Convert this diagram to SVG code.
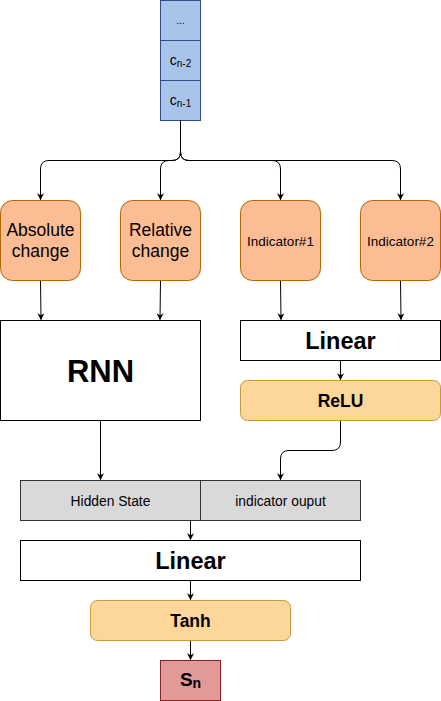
<svg xmlns="http://www.w3.org/2000/svg" width="441" height="701" viewBox="0 0 441 701">
<style>
text{font-family:"Liberation Sans",Arial,sans-serif;fill:#000;text-anchor:middle;dominant-baseline:central}
.b{font-weight:bold}
.stack{fill:#a9c4eb;stroke:#2f4f85;stroke-width:1}
.ind{fill:#fdbd94;stroke:#b46504;stroke-width:1}
.white{fill:#fff;stroke:#000;stroke-width:1}
.act{fill:#fdd699;stroke:#c49a3a;stroke-width:1}
.grey{fill:#d9d9d9;stroke:#333;stroke-width:1}
.out{fill:#e29997;stroke:#8a2222;stroke-width:1}
.edge{fill:none;stroke:#000;stroke-width:1;marker-end:url(#arr)}
</style>
<defs>
<marker id="arr" viewBox="0 0 10 10" refX="9" refY="5" markerWidth="7" markerHeight="7" markerUnits="userSpaceOnUse" orient="auto">
<path d="M0,0 L10,5 L0,10 L3,5 Z" fill="#000"/>
</marker>
</defs>
<g id="stack">
<rect class="stack" x="160.5" y="0.5" width="40" height="40"/>
<rect class="stack" x="160.5" y="40.5" width="40" height="40"/>
<rect class="stack" x="160.5" y="80.5" width="40" height="40"/>
<text x="180.5" y="20" font-size="10">...</text>
<text x="180.5" y="60" font-size="14">c<tspan font-size="10" dy="3">n-2</tspan></text>
<text x="180.5" y="100" font-size="14">c<tspan font-size="10" dy="3">n-1</tspan></text>
</g>
<g id="connectors">
<path class="edge" d="M180.5 120.5 L180.5 152 Q180.5 160.5 172 160.5 L49 160.5 Q40.5 160.5 40.5 169 L40.5 199.5"/>
<path class="edge" d="M180.5 120.5 L180.5 152 Q180.5 160.5 172 160.5 L169 160.5 Q160.5 160.5 160.5 169 L160.5 199.5"/>
<path class="edge" d="M180.5 120.5 L180.5 152 Q180.5 160.5 189 160.5 L272 160.5 Q280.5 160.5 280.5 169 L280.5 199.5"/>
<path class="edge" d="M180.5 120.5 L180.5 152 Q180.5 160.5 189 160.5 L392 160.5 Q400.5 160.5 400.5 169 L400.5 199.5"/>
<path class="edge" d="M40.5 280.5 L41 319.5"/>
<path class="edge" d="M160.5 280.5 L160 319.5"/>
<path class="edge" d="M280.5 280.5 L281 319.5"/>
<path class="edge" d="M400.5 280.5 L401 319.5"/>
<path class="edge" d="M340.5 360.5 L340.5 379.5"/>
<path class="edge" d="M340.5 420.5 L340.5 442 Q340.5 450.5 332 450.5 L289 450.5 Q280.5 450.5 280.5 459 L280.5 479.5"/>
<path class="edge" d="M100.5 420.5 L100.5 479.5"/>
<path class="edge" d="M190.5 520.5 L190.5 539.5"/>
<path class="edge" d="M190.5 580.5 L190.5 599.5"/>
<path class="edge" d="M190.5 640.5 L190.5 659.5"/>
</g>
<g id="absolute">
<rect class="ind" x="0.5" y="200.5" width="80" height="80" rx="12"/>
<text x="40.5" y="230" font-size="17.5">Absolute</text>
<text x="40.5" y="251" font-size="17.5">change</text>
</g>
<g id="relative">
<rect class="ind" x="120.5" y="200.5" width="80" height="80" rx="12"/>
<text x="160.5" y="230" font-size="17.5">Relative</text>
<text x="160.5" y="251" font-size="17.5">change</text>
</g>
<g id="ind1">
<rect class="ind" x="240.5" y="200.5" width="80" height="80" rx="12"/>
<text x="280.5" y="241" font-size="13.5">Indicator#1</text>
</g>
<g id="ind2">
<rect class="ind" x="360.5" y="200.5" width="80" height="80" rx="12"/>
<text x="400.5" y="241" font-size="13.5">Indicator#2</text>
</g>
<g id="rnn">
<rect class="white" x="0.5" y="320.5" width="200" height="100"/>
<text class="b" x="100.5" y="371" font-size="31">RNN</text>
</g>
<g id="linear1">
<rect class="white" x="240.5" y="320.5" width="200" height="40"/>
<text class="b" x="340.5" y="341" font-size="23.5">Linear</text>
</g>
<g id="relu">
<rect class="act" x="240.5" y="380.5" width="200" height="40" rx="7"/>
<text class="b" x="340.5" y="401" font-size="17.5">ReLU</text>
</g>
<g id="hidden">
<rect class="grey" x="20.5" y="480.5" width="180" height="40"/>
<text x="110.5" y="501" font-size="13.8">Hidden State</text>
</g>
<g id="indout">
<rect class="grey" x="200.5" y="480.5" width="160" height="40"/>
<text x="280.5" y="501" font-size="13.8">indicator ouput</text>
</g>
<g id="linear2">
<rect class="white" x="20.5" y="540.5" width="340" height="40"/>
<text class="b" x="190.5" y="561" font-size="23.5">Linear</text>
</g>
<g id="tanh">
<rect class="act" x="90.5" y="600.5" width="200" height="40" rx="7"/>
<text class="b" x="190.5" y="621" font-size="17.5">Tanh</text>
</g>
<g id="sn">
<rect class="out" x="160.5" y="660.5" width="60" height="40"/>
<text class="b" x="190.5" y="679" font-size="19">S<tspan font-size="14" dy="4">n</tspan></text>
</g>
</svg>
